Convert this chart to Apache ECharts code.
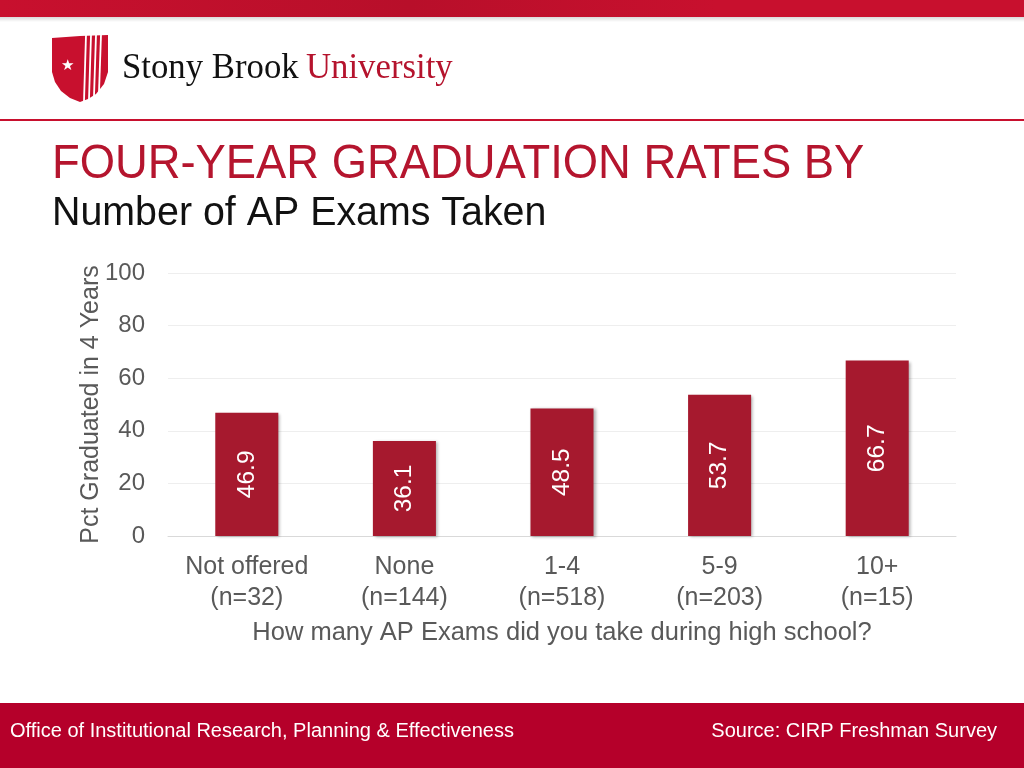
<!DOCTYPE html>
<html><head><meta charset="utf-8">
<script src="https://cdn.jsdelivr.net/npm/echarts@6/dist/echarts.min.js"></script>
<style>html,body{margin:0;padding:0;background:#fff}#c{width:1024px;height:768px}</style>
</head><body><div id="c"></div>
<script>
const categories = ['Not offered\n(n=32)', 'None\n(n=144)', '1-4\n(n=518)', '5-9\n(n=203)', '10+\n(n=15)'];
const gradRates = [46.9, 36.1, 48.5, 53.7, 66.7];
const yTicks = [0, 20, 40, 60, 80, 100];

const chart = echarts.init(document.getElementById('c'), null, {renderer: 'canvas'});
const F = 'Liberation Sans, Arial, sans-serif';
const stripeTop = [86, 91, 96, 101];
const stripeBot = [[84, 101], [89, 99], [94, 96], [99, 92]];
const stripes = stripeTop.map((x, i) => ({type: 'line', z: 11,
  shape: {x1: x, y1: 35, x2: stripeBot[i][0], y2: stripeBot[i][1]}, style: {stroke: '#fff', lineWidth: 1.8}}));
const shieldPts = [[52,38],[80,36],[108,35],[108,72],[104,84],[96,94],[88,99],[80,102],[70,98],[61,91],[55,82],[52,72]];
chart.setOption({
  animation: false,
  backgroundColor: '#fff',
  grid: {left: 168, right: 68, top: 273, bottom: 232},
  xAxis: {
    type: 'category', data: categories,
    axisLine: {lineStyle: {color: '#d9d9d9'}}, axisTick: {show: false},
    axisLabel: {interval: 0, hideOverlap: false, fontFamily: F, fontSize: 25, color: '#595959', lineHeight: 31, margin: 16},
    name: 'How many AP Exams did you take during high school?',
    nameLocation: 'middle', nameGap: 84,
    nameTextStyle: {fontFamily: F, fontSize: 25.5, color: '#595959'}
  },
  yAxis: {
    type: 'value', min: yTicks[0], max: yTicks[yTicks.length - 1], interval: 20,
    axisLine: {show: false}, axisTick: {show: false},
    splitLine: {lineStyle: {color: '#eeeeee'}},
    axisLabel: {fontFamily: F, fontSize: 24, color: '#595959', margin: 23},
    name: 'Pct Graduated in 4 Years', nameLocation: 'middle', nameGap: 64, nameRotate: 90,
    nameMoveOverlap: false,
    nameTextStyle: {fontFamily: F, fontSize: 25, color: '#595959'}
  },
  series: [{
    type: 'bar', data: gradRates, barWidth: '40%',
    itemStyle: {color: '#a6192e', shadowColor: 'rgba(0,0,0,0.3)', shadowBlur: 3, shadowOffsetX: 2, shadowOffsetY: 1},
    label: {show: true, position: 'inside', rotate: 90, color: '#fff', fontFamily: F, fontSize: 24.5,
      formatter: p => p.value.toFixed(1)}
  }],
  graphic: [
    {type: 'rect', shape: {x: 0, y: 0, width: 1024, height: 17}, z: 10,
      style: {fill: new echarts.graphic.LinearGradient(0, 0, 1, 0, [
        {offset: 0, color: '#c8102e'}, {offset: 0.4, color: '#b80f2a'}, {offset: 0.7, color: '#c8102e'}, {offset: 1, color: '#c8102e'}])}},
    {type: 'rect', shape: {x: 0, y: 17, width: 1024, height: 5}, z: 9,
      style: {fill: new echarts.graphic.LinearGradient(0, 0, 0, 1, [
        {offset: 0, color: 'rgba(0,0,0,0.15)'}, {offset: 1, color: 'rgba(0,0,0,0)'}])}},
    {type: 'polygon', z: 10, shape: {points: shieldPts}, style: {fill: '#c8102e'}},
    ...stripes,
    {type: 'text', z: 11, x: 67, y: 66, style: {text: '★', fill: '#fff', fontSize: 15, align: 'center', verticalAlign: 'middle'}},
    {type: 'text', z: 11, x: 122, y: 69, scaleX: 0.965, style: {text: 'Stony Brook', fill: '#111', fontFamily: 'Liberation Serif, serif', fontSize: 36, verticalAlign: 'middle'}},
    {type: 'text', z: 11, x: 306, y: 69, scaleX: 0.965, style: {text: 'University', fill: '#b5132d', fontFamily: 'Liberation Serif, serif', fontSize: 36, verticalAlign: 'middle'}},
    {type: 'rect', shape: {x: 0, y: 119, width: 1024, height: 2}, z: 10, style: {fill: '#c8102e'}},
    {type: 'text', z: 11, x: 52, y: 165, scaleX: 0.945, style: {text: 'FOUR-YEAR GRADUATION RATES BY', fill: '#b5152e', fontFamily: F, fontSize: 48, verticalAlign: 'middle'}},
    {type: 'text', z: 11, x: 52, y: 214, scaleX: 0.96, style: {text: 'Number of AP Exams Taken', fill: '#111', fontFamily: F, fontSize: 41, verticalAlign: 'middle'}},
    {type: 'rect', shape: {x: 0, y: 703, width: 1024, height: 65}, z: 10, style: {fill: '#b5002a'}},
    {type: 'text', z: 11, x: 10, y: 731, style: {text: 'Office of Institutional Research, Planning & Effectiveness', fill: '#fff', fontFamily: F, fontSize: 20, verticalAlign: 'middle'}},
    {type: 'text', z: 11, x: 997, y: 731, style: {text: 'Source: CIRP Freshman Survey', fill: '#fff', fontFamily: F, fontSize: 20, align: 'right', verticalAlign: 'middle'}}
  ]
});
</script></body></html>
